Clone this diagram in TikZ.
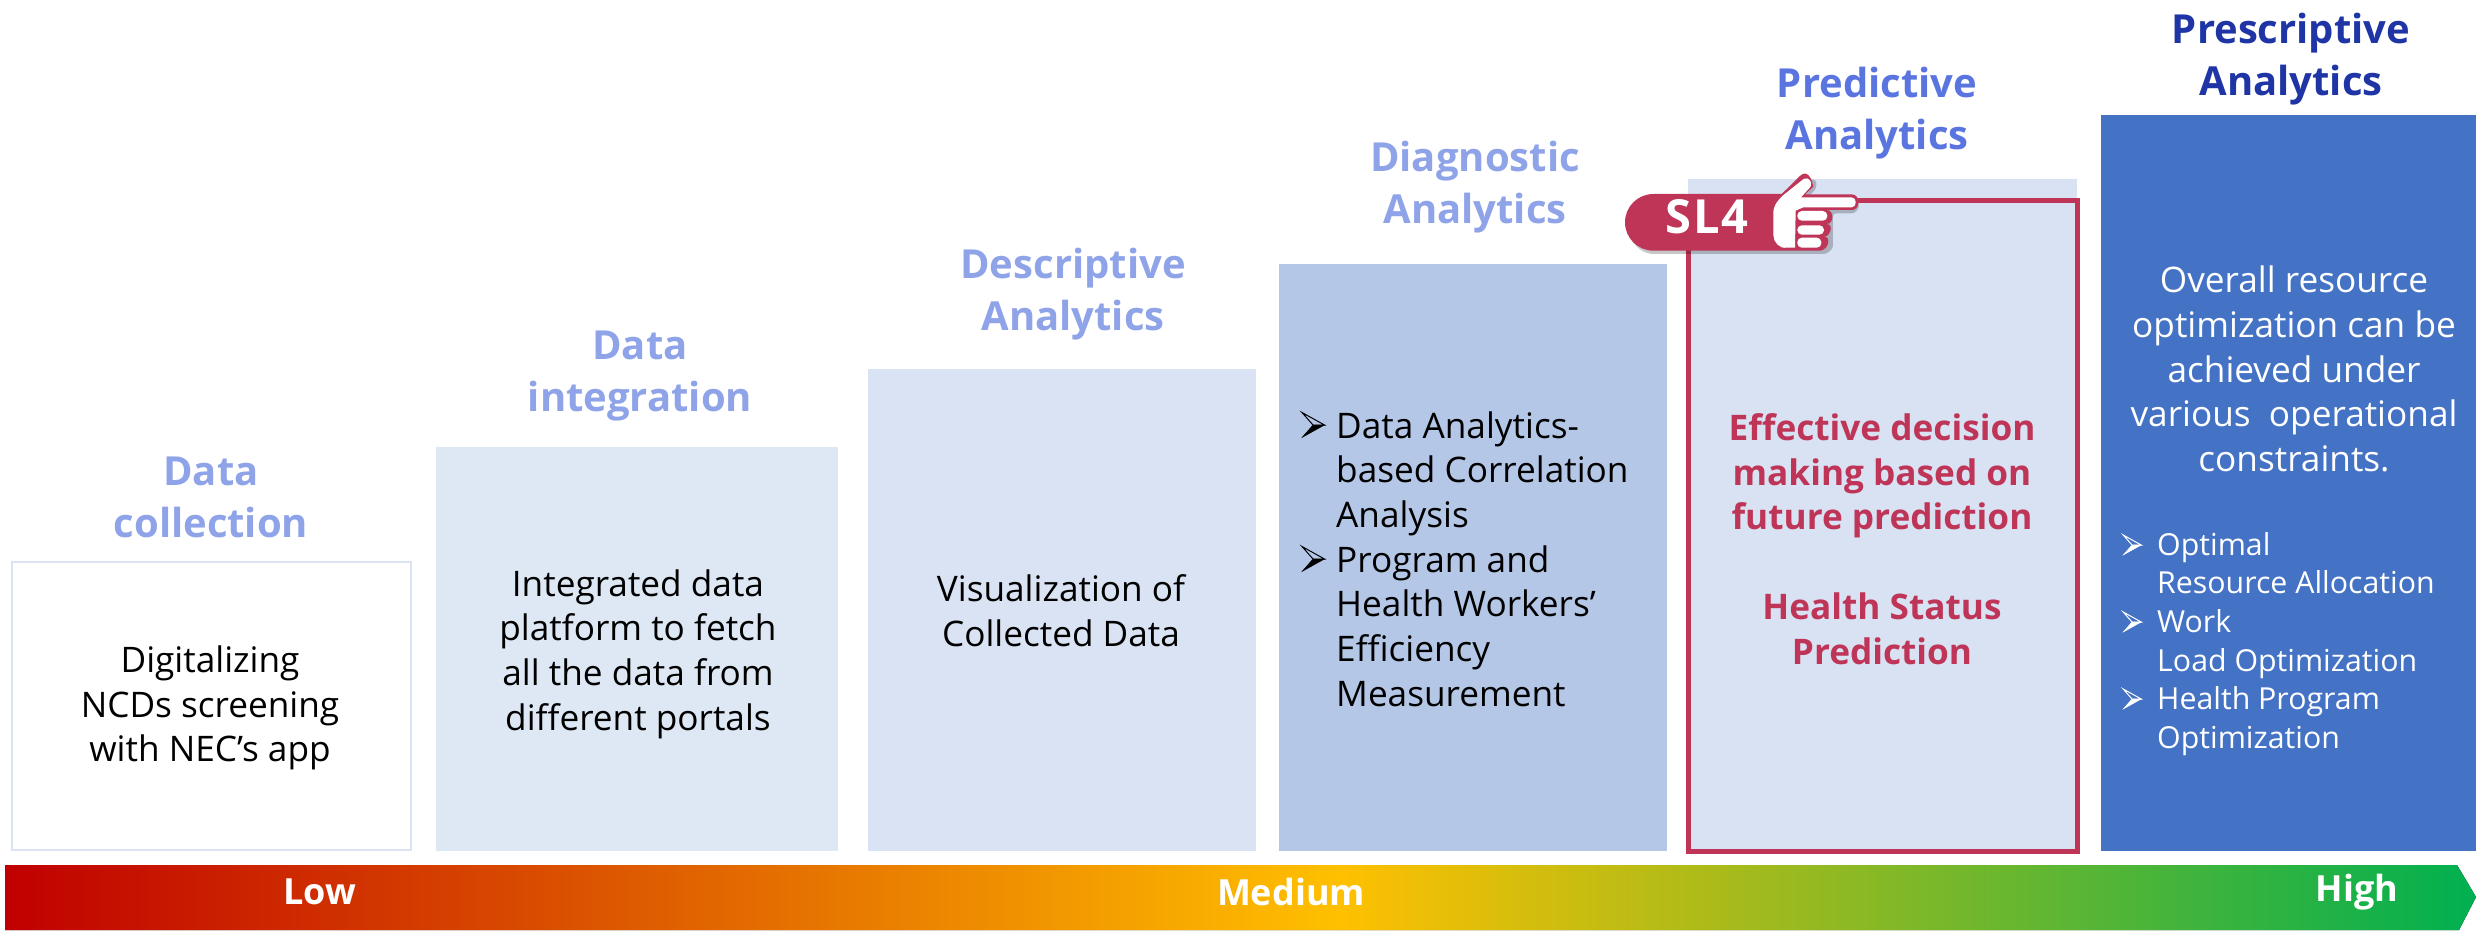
\documentclass[tikz,border=0pt]{standalone}
\usepackage{fontspec}
\setmainfont{Open Sans}
\definecolor{tone}{HTML}{8FA3E8}
\definecolor{tpred}{HTML}{5B75E0}
\definecolor{tpres}{HTML}{1F35A5}
\definecolor{crim}{HTML}{BE3558}
\definecolor{boxa}{HTML}{DEE8F4}
\definecolor{boxb}{HTML}{DAE3F3}
\definecolor{boxc}{HTML}{B4C7E7}
\definecolor{boxd}{HTML}{D9E2F3}
\definecolor{boxe}{HTML}{4472C4}
\definecolor{barr}{HTML}{C00000}
\definecolor{baro}{HTML}{FFC000}
\definecolor{barg}{HTML}{00B050}
\pgfdeclarehorizontalshading{barshade}{100bp}{color(0bp)=(barr); color(25bp)=(barr); color(52bp)=(baro); color(75bp)=(barg); color(100bp)=(barg)}
\tikzset{
  col/.style={anchor=north west,inner sep=0pt,outer sep=0pt},
  body/.style={align=center,font=\fontsize{35.2}{44.7}\selectfont,inner sep=0pt},
  head/.style={align=center,font=\fontsize{40}{52}\selectfont\bfseries,inner sep=0pt},
  listb/.style={align=left,anchor=west,inner sep=0pt},
  barlab/.style={text=white,inner sep=0pt,font=\fontsize{36}{36}\selectfont\bfseries},
  arrowmark/.pic={
    \draw[pic actions,fill=none,line width=1pt] (-11,-12.5) -- (11.5,0) -- (0,0) -- cycle;
    \fill[pic actions] (-11,12.5) -- (11.5,0) -- (0,0) -- cycle;
  },
}
\begin{document}
\begin{tikzpicture}[x=1pt,y=-1pt]
\useasboundingbox (0,0) rectangle (2476,930);
% columns
\node[col,draw=boxb,fill=white,line width=2pt,minimum width=399pt,minimum height=288pt] (c1) at (12,562) {};
\node[col,fill=boxa,minimum width=402pt,minimum height=404pt] (c2) at (436,447) {};
\node[col,fill=boxb,minimum width=388pt,minimum height=482pt] (c3) at (868,369) {};
\node[col,fill=boxc,minimum width=388pt,minimum height=587pt] (c4) at (1279,264) {};
\node[col,fill=boxd,minimum width=389pt,minimum height=672pt] (c5) at (1688,179) {};
\node[col,fill=boxe,minimum width=375pt,minimum height=736pt] (c6) at (2101,115) {};
\node[col,draw=crim,line width=5pt,minimum width=389pt,minimum height=651pt] (c5b) at (1688,200) {};
% headings
\node[head,text=tone] (h1) at (211,497) {Data\\collection};
\node[head,text=tone] (h2) at (640,376) {Data\\integration};
\node[head,text=tone] (h3) at (1073,294) {Descriptive\\Analytics};
\node[head,text=tone] (h4) at (1475,187) {Diagnostic\\Analytics};
\node[head,text=tpred] (h5) at (1877,113) {Predictive\\Analytics};
\node[head,text=tpres] (h6) at (2291,59) {Prescriptive\\Analytics};
% bodies
\node[body] (t1) at (210,708) {Digitalizing\\NCDs screening\\with NEC’s app};
\node[body] (t2) at (638,654) {Integrated data\\platform to fetch\\all the data from\\different portals};
\node[body] (t3) at (1061,611) {Visualization of\\Collected Data};
\node[listb,font=\fontsize{35.2}{44.7}\selectfont] (t4) at (1336,559) {Data Analytics-\\based Correlation\\Analysis\\Program and\\Health Workers’\\Efficiency\\Measurement};
\node[body,text=crim,font=\fontsize{35.2}{44.7}\selectfont\bfseries] (t5) at (1882,539) {Effective decision\\making based on\\future prediction\\[44.7pt]Health Status\\Prediction};
\node[body,text=white] (t6) at (2294,369) {Overall resource\\optimization can be\\achieved under\\various\ \ operational\\constraints.};
\node[listb,text=white,font=\fontsize{30.3}{38.6}\selectfont] (t7) at (2157,644) {Optimal\\Resource Allocation\\Work\\Load Optimization\\Health Program\\Optimization};
% list markers
\pic[draw=black,fill=black] at (1313,425) {arrowmark};
\pic[draw=black,fill=black] at (1313,559) {arrowmark};
\pic[draw=white,fill=white,scale=.8] at (2132,545) {arrowmark};
\pic[draw=white,fill=white,scale=.8] at (2132,622) {arrowmark};
\pic[draw=white,fill=white,scale=.8] at (2132,699) {arrowmark};
% bar
\fill[shading=barshade] (5,865) -- (2457,865) -- (2476,897) -- (2459,930) -- (5,930) -- cycle;
\node[barlab] (low) at (320,892) {Low};
\node[barlab] (med) at (1291,892) {Medium};
\node[barlab] (high) at (2357,892) {High};
% hand label
\begin{scope}[shift={(1600,130)},x=0.3333pt,y=-0.3333pt]
  \begin{scope}[shift={(9,10)}]
    \fill[black,opacity=.22,rounded corners=3pt] (160,192) -- (545,192) -- (600,135) -- (640,140) -- (640,165) -- (612,195) -- (760,195) -- (770,220) -- (755,240) -- (690,240) -- (690,345) -- (670,362) -- (160,362) arc (90:270:85) -- cycle;
  \end{scope}
  \fill[crim] (160,192) -- (545,192) -- (600,138) to[out=45,in=100,looseness=1.4] (640,170) -- (615,193) -- (755,193) to[out=0,in=0,looseness=1.5] (755,240) -- (680,240) to[out=0,in=0,looseness=1.4] (680,282) to[out=0,in=0,looseness=1.4] (672,320) to[out=0,in=0,looseness=1.4] (660,362) -- (160,362) arc (90:270:85) -- cycle;
  \fill[white] (612,146) to[out=20,in=70,looseness=1.3] (632,170) -- (603,202) -- (755,202) to[out=0,in=0,looseness=1.4] (755,232) -- (610,232) -- (587,242) -- (585,353) -- (560,353) to[out=190,in=270] (520,315) -- (520,250) to[out=90,in=225] (548,197) -- cycle;
  \fill[white,rounded corners=4.5pt] (592,243) rectangle (682,272);
  \fill[white,rounded corners=4.5pt] (592,286) rectangle (672,314);
  \fill[white,rounded corners=4.5pt] (592,323) rectangle (664,353);
\end{scope}
\node[text=white,inner sep=0pt,font=\fontsize{47}{47}\selectfont\addfontfeature{LetterSpace=4}] (sl) at (1708,217) {\textbf{SL4}};
\end{tikzpicture}
\end{document}
